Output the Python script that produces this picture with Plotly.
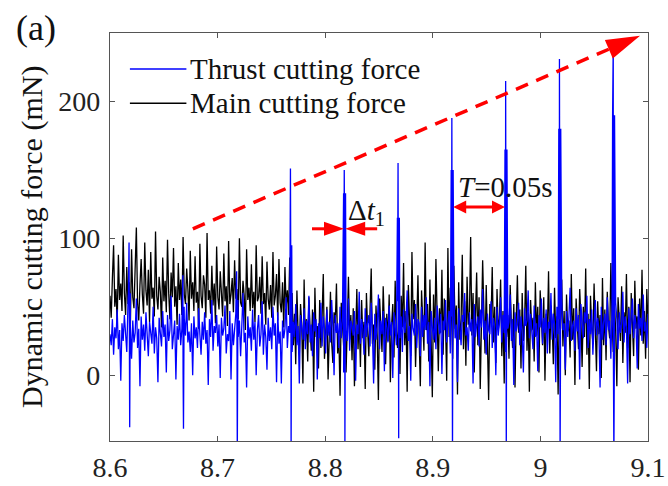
import numpy as np
import plotly.graph_objects as go

# ---- time-domain force signals (mN) ----
T_START, T_END = 8.6, 9.1

main_force = [
    58, 42, 71, 95, 50, 63, 38, 88, 55, 67, 47, 102, 60, 44, 79, 52, 68, 36, 92, 57, 49, 74, 108, 53, 40, 66, 85, 59, 45, 97,
    62, 51, 77, 39, 90, 56, 64, 43, 105, 58, 48, 72, 61, 35, 86, 54, 69, 46, 99, 60, 41, 75, 57, 93, 50, 65, 37, 82, 55, 70,
    44, 101, 59, 52, 78, 63, 40, 91, 56, 68, 47, 87, 53, 61, 34, 96, 58, 49, 73, 66, 42, 104, 55, 62, 45, 80, 51, 67, 38, 94,
    57, 48, 76, 60, 43, 89, 54, 65, 36, 98, 52, 59, 71, 46, 84, 56, 63, 41, 100, 53, 50, 69, 58, 33, 92, 55, 64, 47, 81, 49,
    61, 39, 95, 54, 57, 72, 45, 87, 52, 60, 37, 83, 56, 48, 66, 42, 90, 51, 58, 74, 40, 85, 53, 46, 68, 35, 79, 50, 62, 44,
    86, 48, 60, 22, 45, 8, 62, 30, 15, 52, 38, -6, 70, 25, 41, 10, 57, 33, 18, 48, -12, 64, 28, 36, 5, 55, 20, 43, 74, 12,
    35, 50, -3, 30, 61, 24, 9, 46, 38, 67, 16, 29, -15, 53, 40, 21, 58, 2, 34, 72, 26, 44, 11, 49, -8, 31, 63, 19, 42, 6,
    55, 27, 39, -10, 60, 33, 14, 47, 78, 23, 37, 4, 51, 29, -18, 56, 41, 17, 65, 30, 8, 45, 25, 59, -5, 36, 52, 13, 69, 32,
    20, 48, 1, 58, 35, 82, 22, 47, -12, 66, 30, 14, 90, 41, 55, 6, 38, 73, 27, -8, 62, 44, 18, 97, 33, 52, 10, 70, 36, -16,
    59, 24, 85, 42, 3, 49, 31, 77, 15, 56, 38, -4, 93, 28, 64, 45, 12, 80, 34, 51, -14, 68, 26, 40, 88, 19, 54, 7, 72, 37,
    46, 101, 29, 60, 2, 43, 75, 22, 57, -10, 35, 84, 48, 16, 66, 31, -18, 52, 39, 79, 24, 50, 9, 63, 33, 41, 70, 14, 47, -6,
    58, 28, 44, 12, 66, 36, 20, 52, -9, 40, 73, 31, 48, 5, 60, 25, 38, 80, 18, 46, -12, 55, 33, 42, 10, 68, 29, 50, 2, 62,
    35, 22, 57, -4, 45, 30, 76, 16, 51, 38, 8, 64, 27, 43, -14, 53, 34, 70, 21, 47, 0, 59, 32, 40, 13, 74, 26, 49, -7, 56,
    37, 19, 63, 42, 6, 50, 28, 78, 15, 45, -10, 58, 35, 24, 67, 39, 3, 54, 30, 44, -2, 71, 22, 48, 11, 61, 36, 27, 82, 40,
    17, 52, 33, -8, 57, 41, 25, 65, 9, 46, 31, 74, 20, 50, -5, 60, 38, 14, 69, 34, 43, 4, 56, 29, 77, 23, 47, 12, 63, 36,
]

thrust_force = [
    30, 22, 41, 15, 35, 27, 48, 19, 33, -4, 38, 25, 44, 30, 17, 52, 28, 36, 12, 40, 24, 31, 56, 20, 34, -8, 43, 26, 37, 18,
    46, 29, 14, 39, 32, 23, 50, 16, 35, 27, -5, 42, 31, 21, 47, 28, 37, 2, 44, 25, 33, 58, 19, 30, 40, -3, 36, 26, 45, 22,
    34, 1, 41, 29, 53, 24, 32, 17, 38, 0, 43, 27, 35, 20, 49, 30, 15, 39, 26, 46, 23, 33, -7, 41, 28, 55, 18, 36, 31, 44,
    21, 37, -2, 42, 29, 34, 51, 16, 30, 25, 47, -3, 38, 22, 33, 45, 19, 28, 40, 14, 36, 60, 24, 31, -9, 43, 27, 35, 18, 48,
    26, 39, 0, 33, 44, 21, 30, 54, 15, 37, 28, 4, 42, 25, 35, 19, 50, 29, 38, -5, 46, 23, 32, -6, 40, 27, 34, 57, 20, 36,
    31, 45, 17, 39, 28, 52, 22, 36, -6, 44, 33, 26, 49, 19, 40, 30, 58, 24, 37, 14, 46, 32, 41, -3, 38, 27, 53, 21, 43, 34,
    16, 48, 29, 39, 24, 55, 35, 0, 44, 31, 38, 20, 50, 27, 42, 2, 46, 33, 25, 56, 18, 40, 36, 29, 47, -4, 37, 30, 61, 23,
    41, 34, 15, 49, 28, 38, 44, 21, 53, 32, -6, 45, 26, 36, 59, 19, 40, 30, 47, 3, 42, 35, 24, 51, 29, 39, -2, 46, 33, 22,
    54, 37, 27, 43, 17, 48, 31, 40, 62, 25, 36, -4, 45, 34, 29, 52, 20, 41, 38, 14, 50, 28, 44, 33, 57, 23, 39, -8, 47, 35,
    26, 42, 19, 51, 36, 30, 45, 1, 40, 33, 55, 24, 38, 47, 16, 43, 31, 58, 27, 37, -5, 49, 34, 22, 44, 39, 60, 29, 35, 18,
    46, 32, 41, -6, 52, 28, 37, 43, 21, 48, 35, 63, 26, 40, 15, 45, 33, 30, 54, 20, 42, 36, 0, 50, 29, 38, 57, 24, 44, 31,
    17, 47, 34, 39, 59, 25, 41, -7, 46, 32, 37, 53, 22, 43, 30, 2, 49, 36, 40, 62, 27, 45, 33, 19, 51, 28, 38, 3, 44, 35,
    56, 23, 42, 31, 48, 16, 39, 34, 60, 26, 45, 37, -5, 50, 30, 41, 21, 54, 33, 38, 4, 47, 28, 43, 64, 25, 36, 40, 18, 49,
    32, 44, -3, 52, 35, 27, 46, 38, 58, 20, 41, 30, 48, 15, 37, 55, 29, 42, 34, -9, 50, 26, 39, 45, 22, 57, 33, 40, 12, 47,
    36, 28, 53, 41, 19, 46, 31, 38, 61, 24, 43, 35, -6, 49, 30, 40, 56, 27, 44, 37, 5, 52, 34, 42, 25, 59, 32, 39, 20, 45,
]

# periodic impacts in the thrust force (one per revolution, T = 0.05 s)
spike_time = [8.618, 8.668, 8.718, 8.768, 8.818, 8.868, 8.918, 8.968, 9.018, 9.068]
spike_peak = [97, 73, 76, 151, 150, 155, 188, 215, 231, 243]
spike_trough = [-38, -39, -60, -60, -60, -46, -60, -60, -60, -60]
spike_rebound = [60, 50, 55, 95, 133, 115, 150, 165, 180, 190]

x_ticks = [8.6, 8.7, 8.8, 8.9, 9.0, 9.1]
x_ticktext = ["8.6", "8.7", "8.8", "8.9", "9", "9.1"]
y_ticks = [0, 100, 200]
Y_MIN, Y_MAX = -48, 250

# ---- build series ----
t_main = np.linspace(T_START, T_END, len(main_force))
t_thr = list(np.linspace(T_START, T_END, len(thrust_force)))
v_thr = list(thrust_force)
for ts, pk, tr, rb in zip(spike_time, spike_peak, spike_trough, spike_rebound):
    t_thr += [ts - 0.0009, ts - 0.0003, ts + 0.0003, ts + 0.0009]
    v_thr += [rb, pk, tr, rb]
order = np.argsort(t_thr, kind="stable")
t_thr = np.array(t_thr)[order]
v_thr = np.array(v_thr)[order]

# ---- geometry helpers (plot area in px) ----
W, H = 668, 486
ML, MR, MT, MB = 110, 20, 33, 45
PW, PH = W - ML - MR, H - MT - MB
SX = PW / (T_END - T_START)        # px per second
SY = PH / (Y_MAX - Y_MIN)          # px per mN

def tri(tip_x, tip_y, dx, dy, length, half):
    """Filled triangle path with its tip at a data point, pointing along (dx, dy) in px."""
    n = np.hypot(dx, dy)
    ux, uy = dx / n, dy / n
    bx, by = -ux * length, -uy * length
    px, py = -uy * half, ux * half
    pts = [(0, 0), (bx + px, by + py), (bx - px, by - py)]
    coords = [(tip_x + a / SX, tip_y + b / SY) for a, b in pts]
    return "M {} {} L {} {} L {} {} Z".format(*[c for p in coords for c in p])

RED = "#FF0000"
FONT = "Liberation Serif, Times New Roman, serif"

fig = go.Figure()
fig.add_trace(go.Scatter(x=t_main, y=main_force, mode="lines", name="Main cutting force",
                         line=dict(color="#000000", width=1.3), showlegend=False))
fig.add_trace(go.Scatter(x=t_thr, y=v_thr, mode="lines", name="Thrust cutting force",
                         line=dict(color="#0000FF", width=1.3), showlegend=False))

shapes = []
# trend arrow (dashed) with solid head
trend_start = (8.677, 107)
trend_tip = (9.0926, 248)
dxp = (trend_tip[0] - trend_start[0]) * SX
dyp = (trend_tip[1] - trend_start[1]) * SY
head_len = 34
frac = 1 - head_len / np.hypot(dxp, dyp)
shapes.append(dict(type="line", xref="x", yref="y", layer="above",
                   x0=trend_start[0], y0=trend_start[1],
                   x1=trend_start[0] + (trend_tip[0] - trend_start[0]) * frac,
                   y1=trend_start[1] + (trend_tip[1] - trend_start[1]) * frac,
                   line=dict(color=RED, width=3.5, dash="13px,9px")))
shapes.append(dict(type="path", xref="x", yref="y", layer="above",
                   path=tri(trend_tip[0], trend_tip[1], dxp, dyp, head_len, 10),
                   fillcolor=RED, line=dict(color=RED, width=0)))

# delta t1 markers around the impact at 8.818 s
dt_x, dt_y = spike_time[4], 107
gap = 0.6 / SX
for sgn in (-1, 1):
    tip = dt_x + sgn * gap
    shapes.append(dict(type="line", xref="x", yref="y", layer="above",
                       x0=tip + sgn * 32 / SX, y0=dt_y, x1=tip + sgn * 18 / SX, y1=dt_y,
                       line=dict(color=RED, width=3)))
    shapes.append(dict(type="path", xref="x", yref="y", layer="above",
                       path=tri(tip, dt_y, -sgn, 0, 20, 7),
                       fillcolor=RED, line=dict(color=RED, width=0)))

# period arrow between two consecutive impacts
per_y = 123
p0, p1 = spike_time[6], spike_time[7]
shapes.append(dict(type="line", xref="x", yref="y", layer="above",
                   x0=p0 + 10 / SX, y0=per_y, x1=p1 - 10 / SX, y1=per_y,
                   line=dict(color=RED, width=3)))
shapes.append(dict(type="path", xref="x", yref="y", layer="above",
                   path=tri(p0 + 1 / SX, per_y, -1, 0, 13, 6.5),
                   fillcolor=RED, line=dict(color=RED, width=0)))
shapes.append(dict(type="path", xref="x", yref="y", layer="above",
                   path=tri(p1 - 1 / SX, per_y, 1, 0, 13, 6.5),
                   fillcolor=RED, line=dict(color=RED, width=0)))

# legend samples
leg_rows = [("Thrust cutting force", "#0000FF", 0.912), ("Main cutting force", "#000000", 0.828)]
for _, col, yy in leg_rows:
    shapes.append(dict(type="line", xref="paper", yref="paper", x0=0.037, x1=0.142,
                       y0=yy, y1=yy, line=dict(color=col, width=1.5)))

annotations = []
for label, _, yy in leg_rows:
    annotations.append(dict(xref="paper", yref="paper", x=0.145, y=yy, text=label,
                            showarrow=False, xanchor="left", yanchor="middle",
                            font=dict(family=FONT, size=29, color="#111")))
annotations += [
    dict(xref="x", yref="y", x=dt_x + 22 / SX, y=dt_y + 17 / SY,
         text="Δ<i>t</i><sub>1</sub>", showarrow=False, xanchor="center", yanchor="middle",
         font=dict(family=FONT, size=29, color="#111")),
    dict(xref="x", yref="y", x=p1, y=per_y + 20 / SY, text="<i>T</i>=0.05s",
         showarrow=False, xanchor="center", yanchor="middle",
         font=dict(family=FONT, size=29, color="#111")),
    dict(xref="paper", yref="paper", x=-0.145, y=0.5, text="Dynamic cutting force (mN)",
         textangle=-90, showarrow=False, xanchor="center", yanchor="middle",
         font=dict(family=FONT, size=30, color="#111")),
    dict(xref="paper", yref="paper", x=-0.1375, y=1.012, text="(a)", showarrow=False,
         xanchor="center", yanchor="middle",
         font=dict(family=FONT, size=36, color="#111")),
]

axis_common = dict(showline=True, mirror="ticks", linecolor="#555", linewidth=1.2,
                   ticks="inside", ticklen=5, tickcolor="#555", showgrid=False,
                   zeroline=False, automargin=False,
                   tickfont=dict(family=FONT, size=28, color="#222"))

fig.update_layout(
    width=W, height=H, margin=dict(l=ML, r=MR, t=MT, b=MB),
    paper_bgcolor="white", plot_bgcolor="white",
    xaxis=dict(range=[T_START, T_END], tickvals=x_ticks, ticktext=x_ticktext,
               ticklabelstandoff=1, **axis_common),
    yaxis=dict(range=[Y_MIN, Y_MAX], tickvals=y_ticks, ticklabelstandoff=3, **axis_common),
    shapes=shapes, annotations=annotations,
)

fig.write_html("out.html")
